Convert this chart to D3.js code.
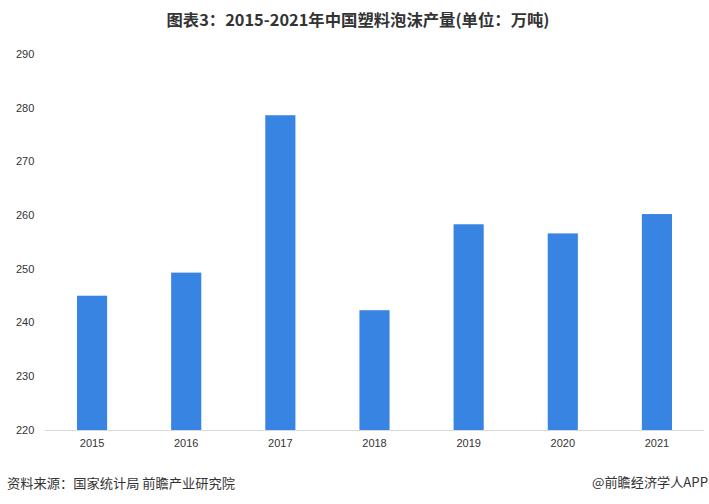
<!DOCTYPE html>
<html><head><meta charset="utf-8">
<script src="https://cdn.jsdelivr.net/npm/d3@7"></script>
<style>body{margin:0;background:#fff;} svg{display:block;}</style>
</head><body>
<svg id="c" width="709" height="504"></svg>
<script>
const years = ["2015","2016","2017","2018","2019","2020","2021"];
const output = [245.0, 249.3, 278.6, 242.3, 258.3, 256.6, 260.2];
const yTicks = [220,230,240,250,260,270,280,290];
const title = "图表3：2015-2021年中国塑料泡沫产量(单位：万吨)";
const source = "资料来源：国家统计局 前瞻产业研究院";
const brand = "@前瞻经济学人APP";

const svg = d3.select("#c");
const x = d3.scaleBand().domain(years).range([45, 704]).paddingInner(0.68).paddingOuter(0.34);
const y = d3.scaleLinear().domain([220, 290]).range([430, 54]);

svg.append("text").attr("x", 358).attr("y", 26).attr("text-anchor", "middle")
  .attr("font-family", "'Noto Sans CJK SC', sans-serif").attr("font-weight", "bold")
  .attr("font-size", 16).attr("fill", "#333").attr("textLength", 383).attr("lengthAdjust","spacingAndGlyphs").text(title);

svg.append("g").selectAll("text").data(yTicks).join("text")
  .attr("x", 16).attr("y", d => y(d)).attr("dy", "0.35em")
  .attr("font-family", "'Liberation Sans', Arial, sans-serif").attr("font-size", 11)
  .attr("fill", "#333").text(d => d);

svg.append("g").selectAll("rect").data(output).join("rect")
  .attr("x", (d,i) => x(years[i])).attr("width", x.bandwidth())
  .attr("y", d => y(d)).attr("height", d => y(220) - y(d))
  .attr("fill", "#3784E2");

const xa = svg.append("g").attr("transform", "translate(0,430)").call(d3.axisBottom(x).tickSize(0).tickPadding(9));
xa.select(".domain").attr("stroke", "#d9d9d9").attr("d", "M45,0.5H704");
xa.selectAll("text").attr("font-family", "'Liberation Sans', Arial, sans-serif").attr("font-size", 11).attr("fill", "#333");

svg.append("text").attr("x", 7).attr("y", 488)
  .attr("font-family", "'Noto Sans CJK SC', sans-serif").attr("font-size", 13)
  .attr("fill", "#333").attr("textLength", 228).attr("lengthAdjust","spacingAndGlyphs").text(source);
svg.append("text").attr("x", 708).attr("y", 487).attr("text-anchor", "end")
  .attr("font-family", "'Noto Sans CJK SC', sans-serif").attr("font-size", 13)
  .attr("fill", "#333").attr("textLength", 116).attr("lengthAdjust","spacingAndGlyphs").text(brand);
</script>
</body></html>
